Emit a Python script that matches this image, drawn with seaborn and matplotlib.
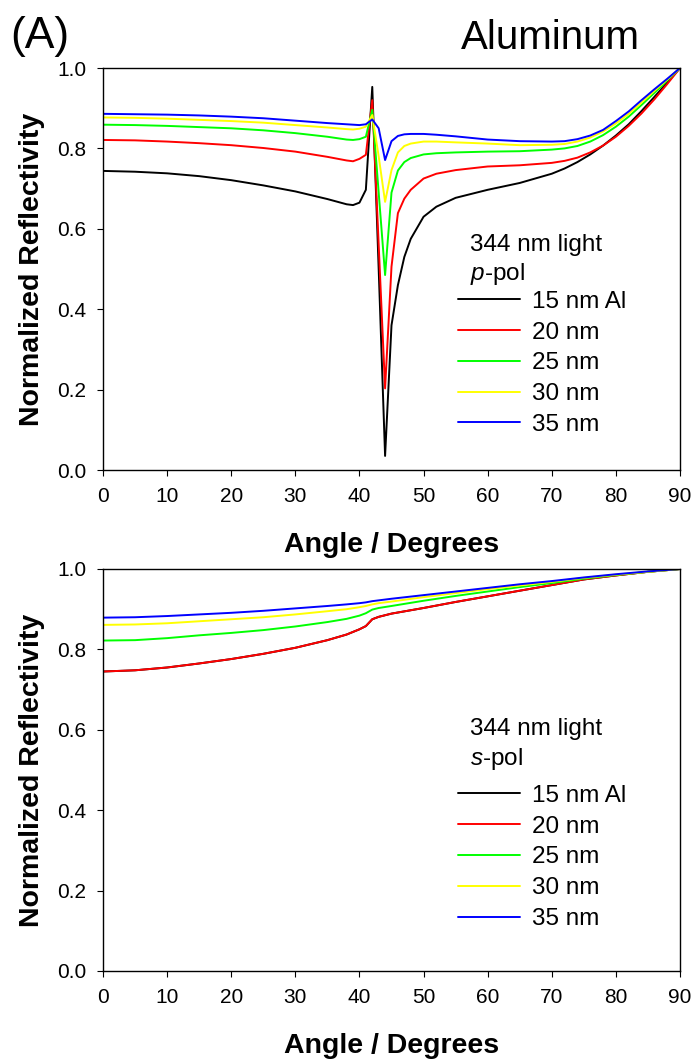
import pandas as pd
import matplotlib.pyplot as plt
import seaborn as sns

# thickness labels and colours
series = ['15 nm Al', '20 nm', '25 nm', '30 nm', '35 nm']
colors = ['#000000', '#ff0000', '#00ff00', '#ffff00', '#0000ff']

# p-polarised reflectivity (top panel)
angle_p = [0, 5, 10, 15, 20, 25, 30, 35, 38, 39, 40, 41, 42, 43, 44, 45, 46, 47, 48,
           50, 52, 55, 60, 65, 70, 72, 74, 76, 78, 80, 82, 84, 86, 88, 90]
p_15 = [0.744, 0.742, 0.738, 0.731, 0.721, 0.708, 0.693, 0.674, 0.661, 0.659, 0.665, 0.697,
        0.953, 0.50, 0.035, 0.36, 0.46, 0.53, 0.575, 0.63, 0.655, 0.677, 0.697, 0.714, 0.737,
        0.750, 0.766, 0.785, 0.807, 0.832, 0.860, 0.893, 0.928, 0.964, 1.0]
p_20 = [0.821, 0.820, 0.817, 0.813, 0.808, 0.801, 0.792, 0.779, 0.770, 0.768, 0.774, 0.784,
        0.920, 0.56, 0.203, 0.506, 0.639, 0.675, 0.697, 0.725, 0.737, 0.746, 0.755, 0.758,
        0.764, 0.769, 0.777, 0.790, 0.807, 0.829, 0.856, 0.887, 0.922, 0.960, 1.0]
p_25 = [0.859, 0.858, 0.856, 0.853, 0.850, 0.845, 0.838, 0.829, 0.822, 0.821, 0.823, 0.829,
        0.896, 0.69, 0.485, 0.690, 0.745, 0.766, 0.776, 0.785, 0.788, 0.790, 0.792, 0.793,
        0.797, 0.800, 0.806, 0.817, 0.833, 0.854, 0.879, 0.908, 0.938, 0.969, 1.0]
p_30 = [0.877, 0.876, 0.874, 0.871, 0.868, 0.864, 0.858, 0.852, 0.848, 0.847, 0.849, 0.854,
        0.883, 0.78, 0.667, 0.746, 0.790, 0.806, 0.812, 0.817, 0.817, 0.815, 0.812, 0.808,
        0.809, 0.811, 0.817, 0.827, 0.842, 0.862, 0.886, 0.914, 0.943, 0.971, 1.0]
p_35 = [0.886, 0.885, 0.884, 0.882, 0.879, 0.875, 0.869, 0.863, 0.860, 0.859, 0.858, 0.860,
        0.872, 0.850, 0.771, 0.818, 0.831, 0.835, 0.836, 0.836, 0.834, 0.830, 0.822, 0.818,
        0.817, 0.818, 0.823, 0.832, 0.846, 0.868, 0.892, 0.920, 0.947, 0.973, 1.0]

# s-polarised reflectivity (bottom panel)
angle_s = [0, 5, 10, 15, 20, 25, 30, 35, 38, 40, 41, 42, 43, 45, 50, 55, 60, 65, 70, 75,
           80, 85, 90]
s_15 = [0.745, 0.748, 0.755, 0.765, 0.776, 0.789, 0.804, 0.823, 0.837, 0.850, 0.858, 0.875,
        0.881, 0.889, 0.903, 0.918, 0.932, 0.946, 0.960, 0.974, 0.984, 0.993, 1.0]
s_20 = [0.745, 0.748, 0.755, 0.765, 0.776, 0.789, 0.804, 0.823, 0.837, 0.850, 0.858, 0.875,
        0.881, 0.889, 0.903, 0.918, 0.932, 0.946, 0.960, 0.974, 0.984, 0.993, 1.0]
s_25 = [0.822, 0.823, 0.828, 0.835, 0.841, 0.848, 0.857, 0.868, 0.876, 0.884, 0.890, 0.899,
        0.903, 0.908, 0.921, 0.933, 0.944, 0.955, 0.965, 0.976, 0.985, 0.993, 1.0]
s_30 = [0.861, 0.862, 0.865, 0.870, 0.875, 0.880, 0.887, 0.895, 0.900, 0.905, 0.908, 0.912,
        0.915, 0.919, 0.930, 0.940, 0.950, 0.959, 0.968, 0.978, 0.986, 0.993, 1.0]
s_35 = [0.879, 0.880, 0.883, 0.887, 0.891, 0.896, 0.902, 0.908, 0.912, 0.915, 0.917, 0.920,
        0.922, 0.926, 0.935, 0.944, 0.953, 0.962, 0.970, 0.979, 0.987, 0.994, 1.0]


def to_long(angles, curves):
    frames = []
    for name, vals in zip(series, curves):
        frames.append(pd.DataFrame({'angle': angles, 'R': vals, 'film': name}))
    return pd.concat(frames, ignore_index=True)


df_p = to_long(angle_p, [p_15, p_20, p_25, p_30, p_35])
df_s = to_long(angle_s, [s_15, s_20, s_25, s_30, s_35])

sns.set_style('ticks')
plt.rcParams['font.family'] = ['Liberation Sans', 'DejaVu Sans']
plt.rcParams['text.color'] = 'black'
plt.rcParams['axes.labelcolor'] = 'black'
plt.rcParams['xtick.color'] = 'black'
plt.rcParams['ytick.color'] = 'black'
plt.rcParams['mathtext.fontset'] = 'custom'
plt.rcParams['mathtext.it'] = 'Liberation Sans:italic'

fig = plt.figure(figsize=(6.96, 10.61), dpi=100)
ax1 = fig.add_axes([103 / 696, 1 - 470 / 1061, 577 / 696, 402 / 1061])
ax2 = fig.add_axes([103 / 696, 1 - 971 / 1061, 577 / 696, 402 / 1061])

for ax, df, pol in [(ax1, df_p, 'p'), (ax2, df_s, 's')]:
    sns.lineplot(data=df, x='angle', y='R', hue='film', hue_order=series,
                 palette=colors, linewidth=1.4, ax=ax, legend=False, sort=False)
    ax.set_xlim(0, 90)
    ax.set_ylim(0, 1.0)
    ax.set_xticks(range(0, 91, 10))
    ax.set_yticks([0.0, 0.2, 0.4, 0.6, 0.8, 1.0])
    ax.set_yticklabels(['0.0', '0.2', '0.4', '0.6', '0.8', '1.0'])
    ax.tick_params(direction='out', length=4, width=0.8, labelsize=15, pad=8)
    for sp in ax.spines.values():
        sp.set_visible(True)
        sp.set_linewidth(1.0)
        sp.set_color('black')
    ax.set_xlabel('Angle / Degrees', fontsize=20.5, fontweight='bold', labelpad=19)
    ax.set_ylabel('Normalized Reflectivity', fontsize=20.5, fontweight='bold', labelpad=9)

    off = 0.0 if pol == 'p' else 0.017
    handles = [plt.Line2D([], [], color=c, lw=1.4) for c in colors]
    ax.text(0.636, 0.56 + off + (0.025 if pol == 's' else 0), '344 nm light',
            transform=ax.transAxes, fontsize=17.5, va='center')
    ax.text(0.636, 0.4875 + off + (0.023 if pol == 's' else 0), f'${pol}$-pol',
            transform=ax.transAxes, fontsize=17.5, va='center')
    ax.legend(handles, series, loc='upper left',
              bbox_to_anchor=(0.599, 0.47 + off),
              frameon=False, fontsize=17.5, handlelength=2.55, handletextpad=0.5,
              labelspacing=0.36, borderaxespad=0)

fig.text(10 / 696, 1 - 48 / 1061, '(A)', fontsize=32, va='baseline', ha='left')
fig.text(550 / 696, 1 - 49 / 1061, 'Aluminum', fontsize=29, va='baseline', ha='center')

fig.savefig('out.png', dpi=100)
